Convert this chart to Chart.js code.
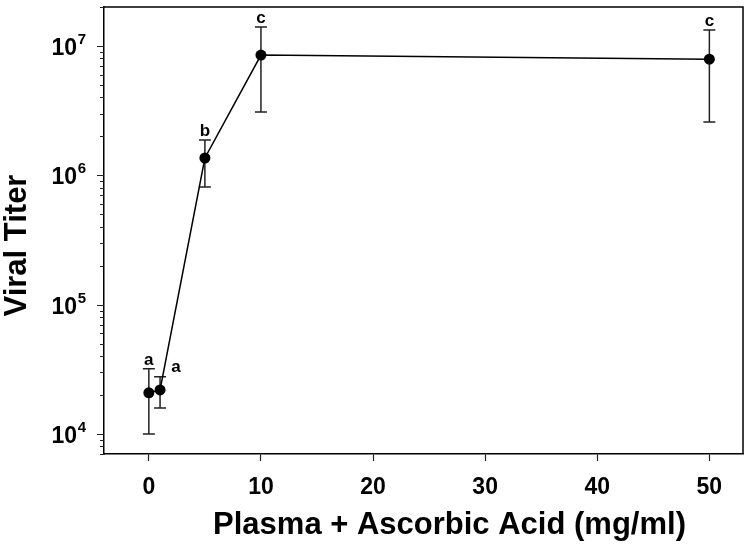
<!DOCTYPE html>
<html><head><meta charset="utf-8">
<script src="https://cdn.jsdelivr.net/npm/chart.js@4"></script>
<style>html,body{margin:0;padding:0;background:#fff;}#wrap{width:750px;height:555px;}</style>
</head><body><div id="wrap"><canvas id="c" width="750" height="555"></canvas></div>
<script>
const concentrations = [0, 1, 5, 10, 50];
const titerMean  = [2.08e4, 2.19e4, 1.36e6, 8.5e6, 7.9e6];
const titerUpper = [3.2e4, 2.77e4, 1.87e6, 1.40e7, 1.33e7];
const titerLower = [1.0e4, 1.59e4, 8.1e5, 3.08e6, 2.58e6];
const groupLetters = ['a', 'a', 'b', 'c', 'c'];
const xTickValues = [0, 10, 20, 30, 40, 50];
const yTickValues = [1e4, 1e5, 1e6, 1e7];
const yTickBase = '10';
const yTickExponents = ['4', '5', '6', '7'];
const xTitle = 'Plasma + Ascorbic Acid (mg/ml)';
const yTitle = 'Viral Titer';

const FONT = '"Liberation Sans", Arial, sans-serif';
Chart.defaults.font.family = FONT;
Chart.defaults.color = '#000';

const decor = {
  id: 'decor',
  beforeDatasetsDraw(chart) {
    const ctx = chart.ctx, xs = chart.scales.x, ys = chart.scales.y;
    ctx.save();
    ctx.strokeStyle = '#222';
    ctx.lineWidth = 1.5;
    concentrations.forEach((c, i) => {
      const x = xs.getPixelForValue(c);
      const yt = ys.getPixelForValue(titerUpper[i]);
      const yb = ys.getPixelForValue(titerLower[i]);
      ctx.beginPath();
      ctx.moveTo(x, yt); ctx.lineTo(x, yb);
      ctx.moveTo(x - 6, yt); ctx.lineTo(x + 6, yt);
      ctx.moveTo(x - 6, yb); ctx.lineTo(x + 6, yb);
      ctx.stroke();
    });
    ctx.restore();
  },
  afterDraw(chart) {
    const ctx = chart.ctx, xs = chart.scales.x, ys = chart.scales.y, a = chart.chartArea;
    ctx.save();
    // frame top & right
    ctx.strokeStyle = '#000';
    ctx.lineWidth = 1.5;
    ctx.beginPath();
    ctx.moveTo(a.left, a.top); ctx.lineTo(a.right, a.top); ctx.lineTo(a.right, a.bottom);
    ctx.stroke();
    // y ticks (major + minor)
    ctx.lineWidth = 1.2;
    ctx.strokeStyle = '#222';
    ctx.beginPath();
    for (let d = 1e3; d <= 1e7; d *= 10) {
      for (let m = 1; m <= 9; m++) {
        const v = m * d;
        if (v < ys.min || v > ys.max) continue;
        const y = Math.round(ys.getPixelForValue(v)) + 0.5;
        const len = m === 1 ? 7 : 4;
        ctx.moveTo(a.left - len, y); ctx.lineTo(a.left, y);
      }
    }
    ctx.stroke();
    // y tick labels: 10 with superscript exponent
    ctx.fillStyle = '#000';
    ctx.textBaseline = 'alphabetic';
    yTickValues.forEach((v, i) => {
      const y = ys.getPixelForValue(v);
      ctx.font = 'bold 15px ' + FONT;
      const ew = ctx.measureText(yTickExponents[i]).width;
      ctx.textAlign = 'right';
      ctx.fillText(yTickExponents[i], 86, y - 2);
      ctx.font = 'bold 23px ' + FONT;
      ctx.fillText(yTickBase, 86 - ew - 0.5, y + 9);
    });
    // group letters
    ctx.font = 'bold 17px ' + FONT;
    ctx.textAlign = 'center';
    concentrations.forEach((c, i) => {
      const x = xs.getPixelForValue(c);
      const yt = ys.getPixelForValue(titerUpper[i]);
      if (i === 1) ctx.fillText(groupLetters[i], x + 16, yt - 5);
      else ctx.fillText(groupLetters[i], x, yt - 4);
    });
    // axis titles
    ctx.font = 'bold 31px ' + FONT;
    ctx.textAlign = 'center';
    ctx.fillText(xTitle, (a.left + a.right) / 2 + 26, 534);
    ctx.translate(26, (a.top + a.bottom) / 2 + 15);
    ctx.rotate(-Math.PI / 2);
    ctx.fillText(yTitle, 0, 0);
    ctx.restore();
  }
};

new Chart(document.getElementById('c'), {
  type: 'line',
  data: {
    datasets: [{
      data: concentrations.map((x, i) => ({ x: x, y: titerMean[i] })),
      borderColor: '#000', borderWidth: 1.5,
      pointRadius: 5.5, pointBackgroundColor: '#000', pointBorderColor: '#000', pointBorderWidth: 0,
      tension: 0, fill: false
    }]
  },
  options: {
    responsive: false, animation: false, devicePixelRatio: 1,
    layout: { padding: { top: 7, right: 7, left: 0, bottom: 0 } },
    plugins: { legend: { display: false }, tooltip: { enabled: false } },
    scales: {
      x: {
        type: 'linear', min: -4, max: 53,
        afterBuildTicks: s => { s.ticks = xTickValues.map(v => ({ value: v })); },
        afterFit: s => { s.height = 101; s.paddingLeft = 0; s.paddingRight = 0; },
        grid: { drawOnChartArea: false, drawTicks: true, tickLength: 7, tickColor: '#222', tickWidth: 1.2 },
        border: { display: true, color: '#000', width: 1.5 },
        ticks: { font: { size: 23, weight: 'bold' }, color: '#000', padding: 13, maxRotation: 0, autoSkip: false,
                 callback: v => String(v) }
      },
      y: {
        type: 'logarithmic', min: 7000, max: 2e7,
        afterBuildTicks: s => { s.ticks = yTickValues.map(v => ({ value: v })); },
        afterFit: s => { s.width = 104; s.paddingTop = 0; s.paddingBottom = 0; },
        grid: { drawOnChartArea: false, drawTicks: false },
        border: { display: true, color: '#000', width: 1.5 },
        ticks: { display: false }
      }
    }
  },
  plugins: [decor]
});
</script>
</body></html>
